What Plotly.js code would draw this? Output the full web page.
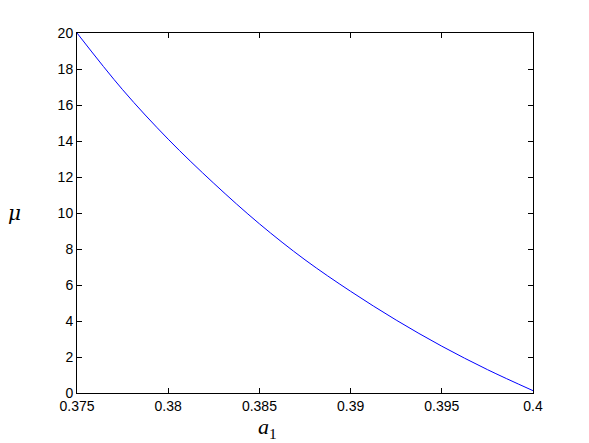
<!DOCTYPE html>
<html>
<head>
<meta charset="utf-8">
<script src="https://cdn.plot.ly/plotly-3.0.1.min.js"></script>
<style>
  html, body { margin: 0; padding: 0; background: #fff; }
  #plot { width: 589px; height: 443px; }
</style>
</head>
<body>
<div id="plot"></div>
<script>
// values
const a1 = [0.375, 0.3775, 0.38, 0.3825, 0.385, 0.3875, 0.39, 0.3925, 0.395, 0.3975, 0.4];
const mu = [20, 16.85, 14.1, 11.65, 9.4, 7.4, 5.65, 4.05, 2.6, 1.3, 0.13];

const xTickVals = [0.375, 0.38, 0.385, 0.39, 0.395, 0.4];
const xTickText = ['0.375', '0.38', '0.385', '0.39', '0.395', '0.4'];
const yTickVals = [0, 2, 4, 6, 8, 10, 12, 14, 16, 18, 20];

const tickFont = { family: 'Liberation Sans, Arial, sans-serif', size: 14, color: '#000' };

const trace = {
  x: a1,
  y: mu,
  type: 'scatter',
  mode: 'lines',
  line: { color: '#0000ff', width: 1, shape: 'spline' },
  hoverinfo: 'none'
};

const axisCommon = {
  showgrid: false,
  zeroline: false,
  showline: true,
  linecolor: '#000',
  linewidth: 1,
  mirror: 'ticks',
  ticks: 'inside',
  ticklen: 5,
  tickcolor: '#000',
  tickwidth: 1,
  tickfont: tickFont
};

const layout = {
  width: 589,
  height: 443,
  margin: { l: 77, r: 56, t: 33, b: 50 },
  paper_bgcolor: '#fff',
  plot_bgcolor: '#fff',
  showlegend: false,
  xaxis: Object.assign({}, axisCommon, {
    range: [0.375, 0.4],
    tickmode: 'array',
    tickvals: xTickVals,
    ticktext: xTickText
  }),
  yaxis: Object.assign({}, axisCommon, {
    range: [0, 20],
    tickmode: 'array',
    tickvals: yTickVals
  }),
  annotations: [
    {
      text: '<i>μ</i>',
      xref: 'paper', yref: 'paper',
      x: -0.138, y: 0.5,
      xanchor: 'center', yanchor: 'middle',
      showarrow: false,
      font: { family: 'DejaVu Serif, serif', size: 20, color: '#000' }
    },
    {
      text: '<i>a</i><sub>1</sub>',
      xref: 'paper', yref: 'paper',
      x: 0.418, y: -0.098,
      xanchor: 'center', yanchor: 'middle',
      showarrow: false,
      font: { family: 'Liberation Serif, serif', size: 22, color: '#000' }
    }
  ]
};

Plotly.newPlot('plot', [trace], layout, { displayModeBar: false, staticPlot: true });
</script>
</body>
</html>
